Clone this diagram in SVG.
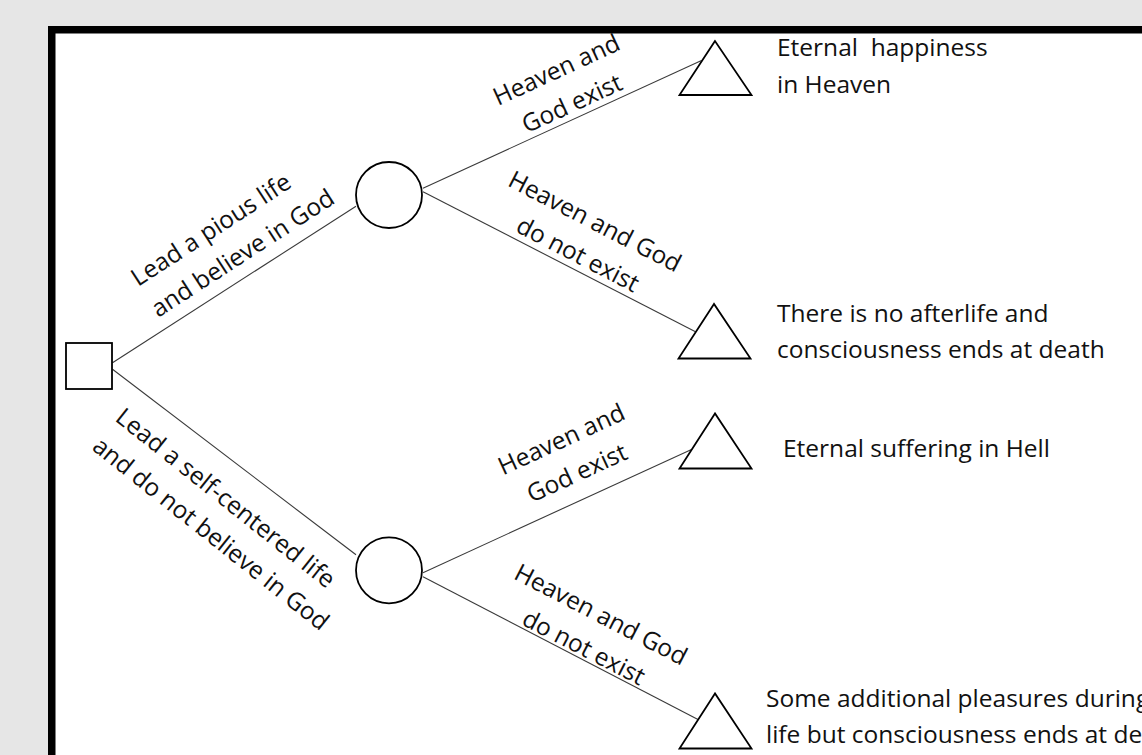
<svg xmlns="http://www.w3.org/2000/svg" width="1142" height="755" viewBox="0 0 1142 755">
<style>
.frame{fill:#ffffff;stroke:#000000;stroke-width:7.5}
.node{fill:#ffffff;stroke:#000000;stroke-width:1.8}
.conn{stroke:#3a3a3a;stroke-width:1.1;fill:none}
text{font-family:"Open Sans","Noto Sans","Liberation Sans",sans-serif;font-size:24.5px;fill:#111111}
.mid{text-anchor:middle}
</style>
<rect x="0" y="0" width="1142" height="755" fill="#e6e6e6"/>
<rect class="frame" x="51.75" y="29.75" width="1200" height="800"/>
<g id="connectors">
  <line class="conn" x1="112.5" y1="362.7" x2="356" y2="206.2"/>
  <line class="conn" x1="112.5" y1="369.3" x2="356" y2="554.8"/>
  <line class="conn" x1="423" y1="188.3" x2="701.5" y2="60.4"/>
  <line class="conn" x1="423" y1="191.7" x2="695.5" y2="331.8"/>
  <line class="conn" x1="423" y1="572.7" x2="691.5" y2="449.4"/>
  <line class="conn" x1="423" y1="576.7" x2="698" y2="719.6"/>
  <g id="label-pious">
    <text transform="translate(138,287) rotate(-33)"><tspan x="0" y="0">Lead a pious life</tspan><tspan x="0" y="37">and believe in God</tspan></text>
  </g>
  <g id="label-self">
    <text transform="translate(114,420) rotate(38.5)"><tspan x="0" y="0">Lead a self-centered life</tspan><tspan x="0" y="37">and do not believe in God</tspan></text>
  </g>
  <g id="label-exist-1">
    <text class="mid" transform="translate(560,77.5) rotate(-24.7)"><tspan x="0" y="0">Heaven and</tspan><tspan x="0" y="37">God exist</tspan></text>
  </g>
  <g id="label-notexist-1">
    <text class="mid" transform="translate(591,229) rotate(27.3)"><tspan x="0" y="0">Heaven and God</tspan><tspan x="0" y="37">do not exist</tspan></text>
  </g>
  <g id="label-exist-2">
    <text class="mid" transform="translate(565,447) rotate(-24.7)"><tspan x="0" y="0">Heaven and</tspan><tspan x="0" y="37">God exist</tspan></text>
  </g>
  <g id="label-notexist-2">
    <text class="mid" transform="translate(597,622) rotate(27.4)"><tspan x="0" y="0">Heaven and God</tspan><tspan x="0" y="37">do not exist</tspan></text>
  </g>
</g>
<g id="decision">
  <rect class="node" x="66" y="343" width="46" height="46"/>
</g>
<g id="chance-1">
  <circle class="node" cx="389" cy="195" r="33"/>
</g>
<g id="chance-2">
  <circle class="node" cx="389" cy="570.3" r="33"/>
</g>
<g id="end-1">
  <polygon class="node" points="715,41 679.5,95 751.5,95"/>
  <text x="777" y="56" xml:space="preserve">Eternal  happiness</text>
  <text x="777" y="93.3">in Heaven</text>
</g>
<g id="end-2">
  <polygon class="node" points="714,304 678.5,358.5 750.5,358.5"/>
  <text x="777" y="321.7">There is no afterlife and</text>
  <text x="777" y="358.3">consciousness ends at death</text>
</g>
<g id="end-3">
  <polygon class="node" points="715,413.5 679.5,468.5 751.5,468.5"/>
  <text x="783" y="457.3">Eternal suffering in Hell</text>
</g>
<g id="end-4">
  <polygon class="node" points="715,693.5 679.5,748.5 751.5,748.5"/>
  <text x="766" y="706.7">Some additional pleasures during</text>
  <text x="766" y="743.3">life but consciousness ends at death</text>
</g>
</svg>
